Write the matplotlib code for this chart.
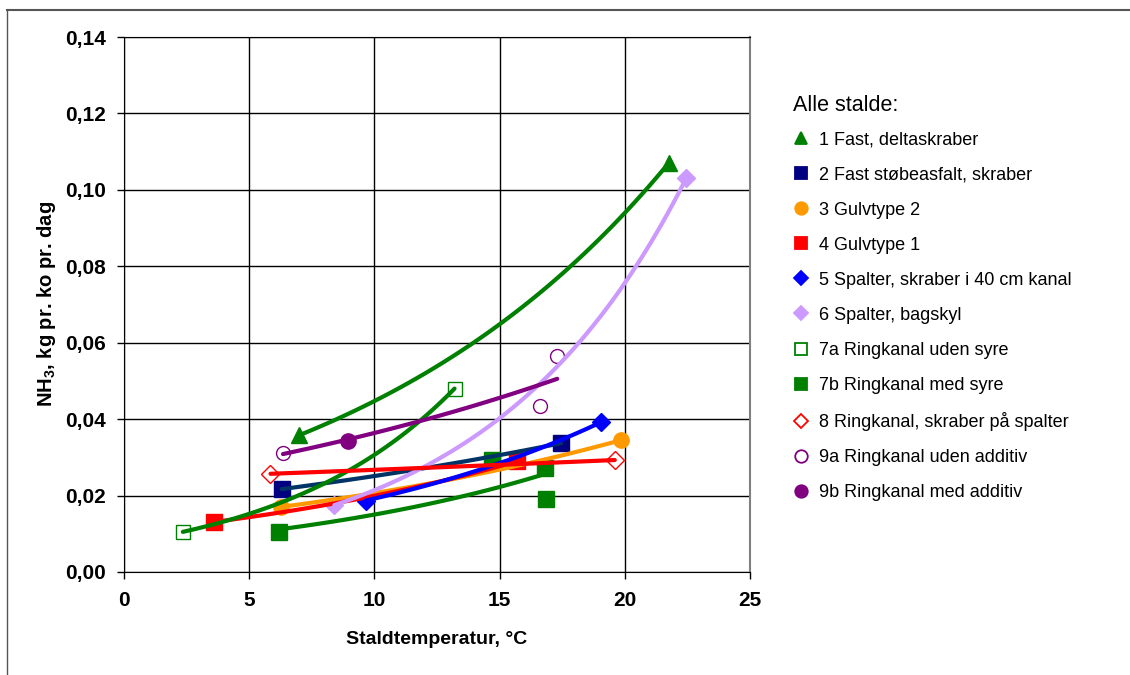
import numpy as np
import matplotlib
matplotlib.use("Agg")
from matplotlib import pyplot as plt
from matplotlib.lines import Line2D

plt.rcParams['font.family'] = ['Liberation Sans', 'DejaVu Sans']
plt.rcParams['mathtext.fontset'] = 'custom'
plt.rcParams['mathtext.rm'] = 'Liberation Sans:bold'
plt.rcParams['mathtext.bf'] = 'Liberation Sans:bold'

## data (temperature in C, NH3 in kg pr. ko pr. dag)
labels = ['1 Fast, deltaskraber', '2 Fast støbeasfalt, skraber', '3 Gulvtype 2',
          '4 Gulvtype 1', '5 Spalter, skraber i 40 cm kanal', '6 Spalter, bagskyl',
          '7a Ringkanal uden syre', '7b Ringkanal med syre',
          '8 Ringkanal, skraber på spalter', '9a Ringkanal uden additiv',
          '9b Ringkanal med additiv']
temp_1 = [7.0, 21.75]
nh3_1 = [0.0358, 0.1070]
temp_2 = [6.3, 17.45]
nh3_2 = [0.0217, 0.0337]
temp_3 = [6.25, 19.85]
nh3_3 = [0.0170, 0.0345]
temp_4 = [3.6, 15.7]
nh3_4 = [0.0131, 0.0290]
temp_5 = [9.65, 19.05]
nh3_5 = [0.0187, 0.0392]
temp_6 = [8.4, 22.45]
nh3_6 = [0.0175, 0.1030]
temp_7a = [2.35, 13.2]
nh3_7a = [0.0105, 0.0480]
temp_7b = [6.2, 14.7, 16.85, 16.8]
nh3_7b = [0.0105, 0.0293, 0.0191, 0.0272]
temp_8 = [5.85, 19.6]
nh3_8 = [0.0257, 0.0293]
temp_9a = [6.35, 16.6, 17.3]
nh3_9a = [0.0311, 0.0435, 0.0565]
temp_9b = [8.95]
nh3_9b = [0.0343]

temps = [temp_1, temp_2, temp_3, temp_4, temp_5, temp_6, temp_7a, temp_7b, temp_8, temp_9a, temp_9b]
nh3s = [nh3_1, nh3_2, nh3_3, nh3_4, nh3_5, nh3_6, nh3_7a, nh3_7b, nh3_8, nh3_9a, nh3_9b]

## styles: marker, marker colour, filled, trend line colour
markers = ['^', 's', 'o', 's', 'D', 'D', 's', 's', 'D', 'o', 'o']
mcolors = ['#008000', '#000080', '#FF9900', '#FF0000', '#0000FF', '#CC99FF',
           '#008000', '#008000', '#FF0000', '#800080', '#800080']
filled = [True, True, True, True, True, True, False, True, False, False, True]
msizes = [12, 11, 11, 11, 9.5, 9.5, 10, 11, 9, 10, 11]
lcolors = ['#008000', '#003366', '#FF9900', '#FF0000', '#0000FF', '#CC99FF',
           '#008000', '#008000', '#FF0000', '#800080', None]

fig = plt.figure(figsize=(11.3, 6.75), dpi=100)
ax = fig.add_axes([124/1130, 1-572/675, 626/1130, 535/675])

handles = []
for i in range(len(labels)):
    face = mcolors[i] if filled[i] else 'white'
    ax.plot(temps[i], nh3s[i], ls='none', marker=markers[i], ms=msizes[i],
            mfc=face, mec=mcolors[i], mew=1.0, zorder=3, clip_on=False)
    handles.append(Line2D([], [], ls='none', marker=markers[i],
                          ms=9 if markers[i] != 'D' else 7.5,
                          mfc=face, mec=mcolors[i], mew=1.3))

## exponential trend lines (Excel style) through each series
for i in range(len(labels)):
    if lcolors[i] is None or len(temps[i]) < 2:
        continue
    x = np.array(temps[i])
    b, a = np.polyfit(x, np.log(nh3s[i]), 1)
    xs = np.linspace(x.min(), x.max(), 100)
    ax.plot(xs, np.exp(a + b*xs), color=lcolors[i], lw=3, solid_capstyle='round', zorder=4)

ax.set_xlim(0, 25)
ax.set_ylim(0, 0.14)
ax.set_xticks(np.arange(0, 26, 5))
yt = np.arange(0, 0.141, 0.02)
ax.set_yticks(yt)
ax.set_yticklabels([('%.2f' % v).replace('.', ',') for v in yt])
ax.tick_params(direction='out', length=5, width=1, labelsize=15)
ax.tick_params(axis='x', pad=9)
ax.tick_params(axis='y', pad=8)
for lab in ax.get_xticklabels() + ax.get_yticklabels():
    lab.set_fontweight('bold')
ax.grid(True, color='black', lw=1)
ax.set_axisbelow(True)
ax.spines['left'].set_color('black')
ax.spines['bottom'].set_color('black')
ax.spines['top'].set_color('black')
ax.spines['right'].set_color('#808080')
ax.spines['right'].set_linewidth(1.5)

fig.text(47/1130, 1-304/675, r'NH$_\mathrm{3}$, kg pr. ko pr. dag', rotation=90,
         ha='center', va='center', fontsize=14.5, fontweight='bold')
fig.text(437/1130, 1-640/675, 'Staldtemperatur, °C', ha='center', va='center',
         fontsize=14, fontweight='bold')

leg = fig.legend(handles, labels, loc='upper left', bbox_to_anchor=(777/1130, 1-79/675),
                 frameon=False, title='Alle stalde:', fontsize=13, title_fontsize=15.5,
                 labelspacing=1.0, handlelength=0.9, handletextpad=0.55,
                 alignment='left')
leg._legend_box.sep = 11

## outer chart border (left and top only visible)
fig.add_artist(Line2D([7/1130, 7/1130], [0, 1-10/675], color='#555555', lw=1))
fig.add_artist(Line2D([7/1130, 1], [1-10/675, 1-10/675], color='#555555', lw=1.5))

fig.savefig('out.png', dpi=100)
